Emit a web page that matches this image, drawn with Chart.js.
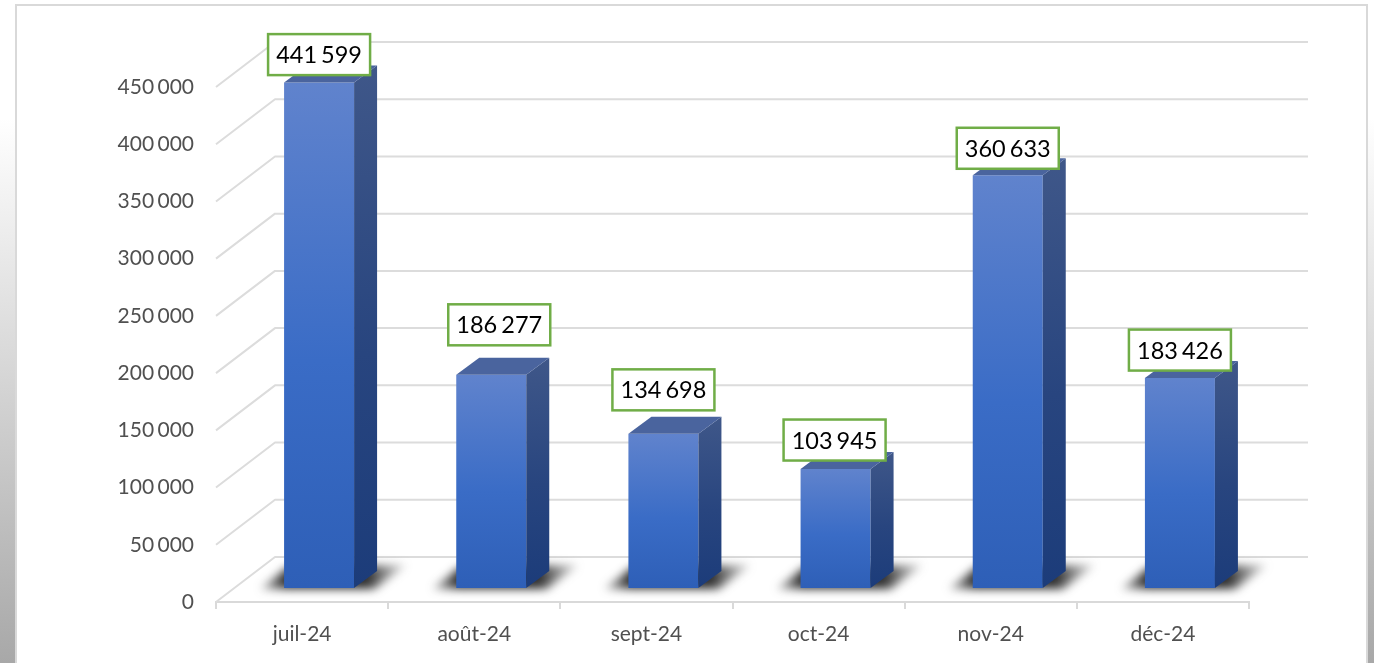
<!DOCTYPE html>
<html lang="fr"><head><meta charset="utf-8">
<style>
html,body{margin:0;padding:0;width:1374px;height:663px;overflow:hidden;background:linear-gradient(180deg,#fff 0,#fff 118px,#a8a8a8 663px)}
#panel{position:absolute;left:15px;top:4px;width:1349px;height:670px;background:#fff;border:2px solid #d9d9d9}
canvas{position:absolute;left:0;top:0}
</style></head><body>
<div id="panel"></div>
<canvas id="c" width="1374" height="663"></canvas>
<script src="https://cdn.jsdelivr.net/npm/chart.js@4"></script>
<script>
const categories = ["juil-24","août-24","sept-24","oct-24","nov-24","déc-24"];
const values = [441599,186277,134698,103945,360633,183426];
const valueLabels = ["441 599","186 277","134 698","103 945","360 633","183 426"];
const yTicks = [0,50000,100000,150000,200000,250000,300000,350000,400000,450000];
const yTickLabels = ["0","50 000","100 000","150 000","200 000","250 000","300 000","350 000","400 000","450 000"];

// label callout placement, relative to the top-centre of each bar's front face
const labelDx = [0,8,0,-1,0,0];
const labelDy = [28,50,44,29,27,28];

const font = "Lato, Carlito, Calibri, sans-serif";
const WALL = {dx:59, dy:-45};   // depth of the floor/back wall
const BARPOS = {dx:17, dy:-14}; // bars stand in the middle of the floor
const DEPTH = {dx:23, dy:-17};  // depth of a bar

const scene = {
  id:'scene',
  beforeDraw(chart){ chart.ctx.wordSpacing='-2px'; },
  beforeDatasetsDraw(chart){
    const {ctx, scales:{x,y}, chartArea:a} = chart;
    ctx.save();
    ctx.strokeStyle='#dcdcdc'; ctx.lineWidth=2; ctx.lineJoin='round';
    for(const t of yTicks){
      const py=y.getPixelForValue(t);
      ctx.beginPath();
      ctx.moveTo(a.left,py);
      ctx.lineTo(a.left+WALL.dx,py+WALL.dy);
      ctx.lineTo(a.right+WALL.dx,py+WALL.dy);
      ctx.stroke();
    }
    ctx.restore();
    // floor shadows + shift bars to their depth
    ctx.save();
    ctx.translate(BARPOS.dx,BARPOS.dy);
    const meta=chart.getDatasetMeta(0);
    meta.data.forEach(b=>{
      const x1=b.x-b.width/2,x2=b.x+b.width/2,by=b.base;
      ctx.save();
      ctx.filter='blur(5px)';
      const g=ctx.createLinearGradient(x1-30,0,x2+56,0);
      g.addColorStop(0,'rgba(60,60,60,.15)');
      g.addColorStop(.2,'rgba(35,35,35,.95)');
      g.addColorStop(.72,'rgba(35,35,35,.95)');
      g.addColorStop(1,'rgba(90,90,90,.15)');
      ctx.fillStyle=g;
      ctx.beginPath();
      ctx.moveTo(x1-24,by+1);
      ctx.lineTo(x1+4,by-21);
      ctx.lineTo(x2+52,by-23);
      ctx.lineTo(x2+20,by+1);
      ctx.closePath(); ctx.fill();
      ctx.restore();
    });
  },
  afterDatasetsDraw(chart){
    const {ctx} = chart;
    const meta=chart.getDatasetMeta(0);
    meta.data.forEach(b=>{
      const x1=b.x-b.width/2,x2=b.x+b.width/2,top=b.y,by=b.base;
      const g=ctx.createLinearGradient(0,top+DEPTH.dy,0,by);
      g.addColorStop(0,'#3f5789'); g.addColorStop(.55,'#28457f'); g.addColorStop(1,'#1c3c7a');
      ctx.fillStyle=g;
      ctx.beginPath();
      ctx.moveTo(x2,top);ctx.lineTo(x2+DEPTH.dx,top+DEPTH.dy);
      ctx.lineTo(x2+DEPTH.dx,by+DEPTH.dy);ctx.lineTo(x2,by);
      ctx.closePath();ctx.fill();
      ctx.fillStyle='#4a649e';
      ctx.beginPath();
      ctx.moveTo(x1,top);ctx.lineTo(x1+DEPTH.dx,top+DEPTH.dy);
      ctx.lineTo(x2+DEPTH.dx,top+DEPTH.dy);ctx.lineTo(x2,top);
      ctx.closePath();ctx.fill();
    });
    ctx.restore();
  },
  afterDraw(chart){
    const {ctx} = chart;
    const meta=chart.getDatasetMeta(0);
    ctx.save();
    ctx.font='23.5px '+font; ctx.textAlign='center'; ctx.textBaseline='middle';
    meta.data.forEach((b,i)=>{
      const cx=b.x+BARPOS.dx+labelDx[i], cy=b.y+BARPOS.dy-labelDy[i];
      const w=102,h=41;
      ctx.fillStyle='#fff'; ctx.fillRect(cx-w/2,cy-h/2,w,h);
      ctx.strokeStyle='#70ad47'; ctx.lineWidth=2.5; ctx.strokeRect(cx-w/2,cy-h/2,w,h);
      ctx.fillStyle='#000'; ctx.fillText(valueLabels[i],cx,cy+1);
    });
    ctx.restore();
  }
};

new Chart(document.getElementById('c'),{
  type:'bar',
  data:{labels:categories,datasets:[{
    data:values,
    clip:false,
    categoryPercentage:1,
    barPercentage:0.4066,
    borderWidth:0,
    backgroundColor(c){
      const ch=c.chart;
      if(!ch.scales||!ch.scales.y||c.raw==null) return '#3a6cc7';
      const y=ch.scales.y;
      const p1=y.getPixelForValue(c.raw),p0=y.getPixelForValue(0);
      if(!Number.isFinite(p1)||!Number.isFinite(p0)) return '#3a6cc7';
      const g=ch.ctx.createLinearGradient(0,p1,0,p0);
      g.addColorStop(0,'#6083cd'); g.addColorStop(.55,'#3a6cc6'); g.addColorStop(1,'#2e5fb7');
      return g;
    }
  }]},
  plugins:[scene],
  options:{
    responsive:false,animation:false,
    layout:{padding:{left:0,top:87,right:125,bottom:0}},
    plugins:{legend:{display:false},tooltip:{enabled:false},title:{display:false}},
    scales:{
      x:{
        afterFit(s){s.height=61;},
        grid:{color:'#d9d9d9',lineWidth:2,drawOnChartArea:false,drawTicks:true,tickLength:7},
        border:{color:'#d9d9d9',width:2},
        ticks:{color:'#505050',font:{family:font,size:21},padding:13,maxRotation:0}
      },
      y:{
        min:0,max:450000,
        afterFit(s){s.width=216;},
        afterBuildTicks(s){s.ticks=yTicks.map(v=>({value:v}));},
        grid:{display:false},
        border:{display:false},
        ticks:{color:'#505050',font:{family:font,size:21},padding:14,
          callback(v){const i=yTicks.indexOf(v);return i<0?'':yTickLabels[i];}}
      }
    }
  }
});
</script>
</body></html>
